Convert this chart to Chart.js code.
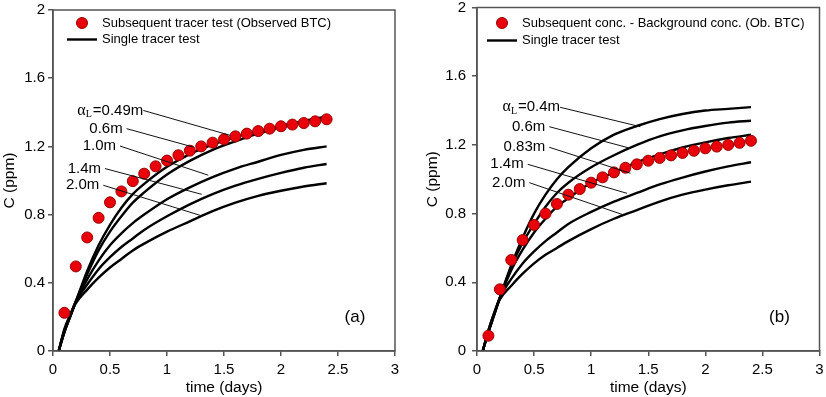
<!DOCTYPE html>
<html>
<head>
<meta charset="utf-8">
<script src="https://cdn.jsdelivr.net/npm/chart.js@4.4.1/dist/chart.umd.min.js"></script>
<style>
  html, body { margin: 0; padding: 0; background: #fff; }
  #wrap { position: relative; width: 826px; height: 397px; overflow: hidden; }
  canvas { position: absolute; top: 0; }
  #ca { left: 0; }
  #cb { left: 415px; }
</style>
</head>
<body>
<div id="wrap">
  <canvas id="ca" width="415" height="397"></canvas>
  <canvas id="cb" width="411" height="397"></canvas>
</div>
<script>
// tick labels
const xTickLabels = ['0', '0.5', '1', '1.5', '2', '2.5', '3']
const yTickLabels = ['0', '0.4', '0.8', '1.2', '1.6', '2']

// observed BTC (days, ppm)
const obsTime = [0.1, 0.2, 0.3, 0.4, 0.5, 0.6, 0.7, 0.8, 0.9, 1.0, 1.1, 1.2,
                 1.3, 1.4, 1.5, 1.6, 1.7, 1.8, 1.9, 2.0, 2.1, 2.2, 2.3, 2.4]
const obsA = [0.224, 0.496, 0.666, 0.781, 0.872, 0.936, 0.996, 1.04, 1.083, 1.117, 1.148, 1.175,
              1.2, 1.222, 1.242, 1.259, 1.275, 1.29, 1.304, 1.318, 1.328, 1.337, 1.347, 1.359]
const obsB = [0.089, 0.359, 0.53, 0.646, 0.734, 0.8, 0.856, 0.91, 0.943, 0.98, 1.011, 1.04,
              1.067, 1.087, 1.108, 1.124, 1.139, 1.153, 1.166, 1.18, 1.19, 1.2, 1.212, 1.224]

// single tracer test simulations
const simTime = [0.05, 0.1, 0.15, 0.2, 0.3, 0.4, 0.5, 0.6, 0.7, 0.8, 1.0, 1.2, 1.4, 1.6, 1.8, 2.0, 2.2, 2.4]
const simA049 = [0, 0.11, 0.2, 0.29, 0.47, 0.62, 0.74, 0.84, 0.92, 0.98, 1.08, 1.155, 1.21, 1.255, 1.29, 1.32, 1.35, 1.375]
const simA06  = [0, 0.11, 0.2, 0.29, 0.45, 0.59, 0.7, 0.79, 0.87, 0.93, 1.035, 1.115, 1.18, 1.23, 1.275, 1.31, 1.345, 1.37]
const simA10  = [0, 0.12, 0.2, 0.29, 0.42, 0.53, 0.62, 0.69, 0.75, 0.8, 0.89, 0.96, 1.02, 1.07, 1.11, 1.15, 1.18, 1.2]
const simA14  = [0, 0.12, 0.21, 0.29, 0.39, 0.48, 0.55, 0.61, 0.66, 0.71, 0.79, 0.86, 0.92, 0.97, 1.01, 1.045, 1.075, 1.097]
const simA20  = [0, 0.13, 0.21, 0.28, 0.36, 0.43, 0.49, 0.54, 0.59, 0.63, 0.7, 0.76, 0.82, 0.87, 0.91, 0.94, 0.965, 0.984]

const simB04  = [0, 0.11, 0.21, 0.31, 0.5, 0.66, 0.8, 0.91, 1.0, 1.07, 1.18, 1.26, 1.31, 1.35, 1.38, 1.4, 1.41, 1.42]
const simB06  = [0, 0.11, 0.21, 0.31, 0.49, 0.63, 0.74, 0.84, 0.92, 0.98, 1.07, 1.14, 1.2, 1.25, 1.285, 1.31, 1.33, 1.341]
const simB083 = [0, 0.11, 0.21, 0.31, 0.47, 0.59, 0.69, 0.77, 0.84, 0.89, 0.98, 1.04, 1.1, 1.145, 1.185, 1.215, 1.24, 1.259]
const simB14  = [0, 0.12, 0.22, 0.31, 0.42, 0.51, 0.58, 0.64, 0.69, 0.74, 0.81, 0.87, 0.92, 0.97, 1.01, 1.045, 1.075, 1.099]
const simB20  = [0, 0.12, 0.22, 0.3, 0.38, 0.45, 0.51, 0.56, 0.6, 0.64, 0.71, 0.77, 0.82, 0.87, 0.91, 0.94, 0.965, 0.986]

// curve labels and leader lines [x0, c0, x1, c1] in data units
const labelsA = ['0.49m', '0.6m', '1.0m', '1.4m', '2.0m']
const leadersA = [[0.792, 1.411, 1.553, 1.265], [0.646, 1.304, 1.231, 1.196], [0.588, 1.202, 1.362, 1.031],
                  [0.456, 1.07, 1.304, 0.919], [0.441, 0.972, 1.289, 0.796]]
const labelsB = ['0.4m', '0.6m', '0.83m', '1.4m', '2.0m']
const leadersB = [[0.728, 1.419, 1.431, 1.306], [0.633, 1.306, 1.344, 1.18], [0.633, 1.186, 1.344, 1.035],
                  [0.444, 1.087, 1.314, 0.918], [0.459, 0.98, 1.285, 0.792]]

const SANS = '"Liberation Sans", Arial, sans-serif'
const SERIF = '"Liberation Serif", "Times New Roman", serif'
const AXIS = '#555'

function pts(xs, ys) {
  return xs.map((x, i) => ({x: x, y: ys[i]}))
}

function curve(ys) {
  return {
    data: pts(simTime, ys), showLine: true, pointRadius: 0,
    borderColor: '#000', borderWidth: 2.4, cubicInterpolationMode: 'monotone', order: 2
  }
}

function decor(p) {
  return {
    id: 'decor',
    afterDatasetsDraw(chart) {
      const {ctx, scales: {x, y}} = chart
      ctx.save()
      ctx.strokeStyle = '#111'
      ctx.lineWidth = 1
      ctx.fillStyle = '#000'
      ctx.textBaseline = 'middle'
      p.leaders.forEach((l, i) => {
        const x0 = x.getPixelForValue(l[0]), y0 = y.getPixelForValue(l[1])
        ctx.beginPath()
        ctx.moveTo(x0, y0)
        ctx.lineTo(x.getPixelForValue(l[2]), y.getPixelForValue(l[3]))
        ctx.stroke()
        const end = x0 - (i === 0 ? 0 : 4)
        if (i === 0) {
          const rest = '=' + p.labels[0]
          ctx.font = '16px ' + SERIF
          const wa = ctx.measureText('\u03b1').width
          ctx.font = '10px ' + SERIF
          const wl = ctx.measureText('L').width
          ctx.font = '15px ' + SANS
          const wr = ctx.measureText(rest).width
          let sx = end - wa - wl - wr - 1
          ctx.textAlign = 'left'
          ctx.font = '16px ' + SERIF
          ctx.fillText('\u03b1', sx, y0)
          ctx.font = '10px ' + SERIF
          ctx.fillText('L', sx + wa, y0 + 4)
          ctx.font = '15px ' + SANS
          ctx.fillText(rest, sx + wa + wl + 1, y0)
        } else {
          ctx.font = '15px ' + SANS
          ctx.textAlign = 'right'
          ctx.fillText(p.labels[i], end, y0)
        }
      })
      ctx.restore()
    },
    afterDraw(chart) {
      const {ctx, chartArea: a} = chart
      ctx.save()
      ctx.strokeStyle = AXIS
      ctx.lineWidth = 1.5
      ctx.strokeRect(a.left, a.top, a.right - a.left, a.bottom - a.top)
      // legend
      ctx.fillStyle = '#e8000b'
      ctx.strokeStyle = '#990000'
      ctx.lineWidth = 1
      ctx.beginPath()
      ctx.arc(p.legX + 15, 23, 5.5, 0, Math.PI * 2)
      ctx.fill()
      ctx.stroke()
      ctx.strokeStyle = '#000'
      ctx.lineWidth = 2.4
      ctx.beginPath()
      ctx.moveTo(p.legX, p.legLineY)
      ctx.lineTo(p.legX + 30, p.legLineY)
      ctx.stroke()
      ctx.fillStyle = '#000'
      ctx.font = '13px ' + SANS
      ctx.textAlign = 'left'
      ctx.textBaseline = 'middle'
      ctx.fillText(p.legend, p.legX + 35, 23)
      ctx.fillText('Single tracer test', p.legX + 35, p.legLineY)
      ctx.font = '17px ' + SANS
      ctx.textAlign = 'center'
      ctx.fillText(p.letter, a.right - 40, 317)
      ctx.restore()
    }
  }
}

function makeChart(id, p) {
  const ctx = document.getElementById(id).getContext('2d')
  return new Chart(ctx, {
    type: 'scatter',
    data: {
      datasets: [
        {
          data: pts(obsTime, p.obs), pointRadius: 5.5, pointHoverRadius: 5.5,
          backgroundColor: '#e8000b', borderColor: '#990000', borderWidth: 1, order: 1
        }
      ].concat(p.sims.map(curve))
    },
    options: {
      responsive: false,
      animation: false,
      events: [],
      layout: {padding: {left: 0, right: p.padRight, top: p.padTop, bottom: 0}},
      plugins: {legend: {display: false}, tooltip: {enabled: false}},
      scales: {
        x: {
          type: 'linear', min: 0, max: 3,
          afterBuildTicks: s => { s.ticks = xTickLabels.map(v => ({value: parseFloat(v)})) },
          afterFit: s => { s.height = 46; s.paddingRight = 0; s.paddingLeft = 0 },
          ticks: {callback: (v, i) => xTickLabels[i], color: '#000', font: {family: SANS, size: 15}, padding: 5, maxRotation: 0},
          grid: {drawOnChartArea: false, drawTicks: true, tickLength: 5, color: AXIS, lineWidth: 1.5},
          border: {color: AXIS, width: 1.5},
          title: {display: true, text: 'time (days)', color: '#000', font: {family: SANS, size: 15.5}, padding: {top: 0, bottom: 0}}
        },
        y: {
          type: 'linear', min: 0, max: 2,
          afterBuildTicks: s => { s.ticks = yTickLabels.map(v => ({value: parseFloat(v)})) },
          afterFit: s => { s.width = p.yWidth; s.paddingTop = 0; s.paddingBottom = 0 },
          ticks: {callback: (v, i) => yTickLabels[i], color: '#000', font: {family: SANS, size: 15}, padding: p.tickPad},
          grid: {drawOnChartArea: false, drawTicks: true, tickLength: 5, color: AXIS, lineWidth: 1.5},
          border: {color: AXIS, width: 1.5},
          title: {display: true, text: 'C (ppm)', color: '#000', font: {family: SANS, size: 15.5}, padding: {top: p.titlePad, bottom: 0}}
        }
      }
    },
    plugins: [decor(p)]
  })
}

makeChart('ca', {
  obs: obsA, sims: [simA049, simA06, simA10, simA14, simA20],
  labels: labelsA, leaders: leadersA,
  legend: 'Subsequent tracer test (Observed BTC)', letter: '(a)',
  legX: 67, legLineY: 39.5,
  padRight: 20, padTop: 10, yWidth: 53, tickPad: 3, titlePad: 0
})

makeChart('cb', {
  obs: obsB, sims: [simB04, simB06, simB083, simB14, simB20],
  labels: labelsB, leaders: leadersB,
  legend: 'Subsequent conc. - Background conc. (Ob. BTC)', letter: '(b)',
  legX: 72, legLineY: 40.5,
  padRight: 4, padTop: 7.5, yWidth: 62, tickPad: 6, titlePad: 8
})
</script>
</body>
</html>
